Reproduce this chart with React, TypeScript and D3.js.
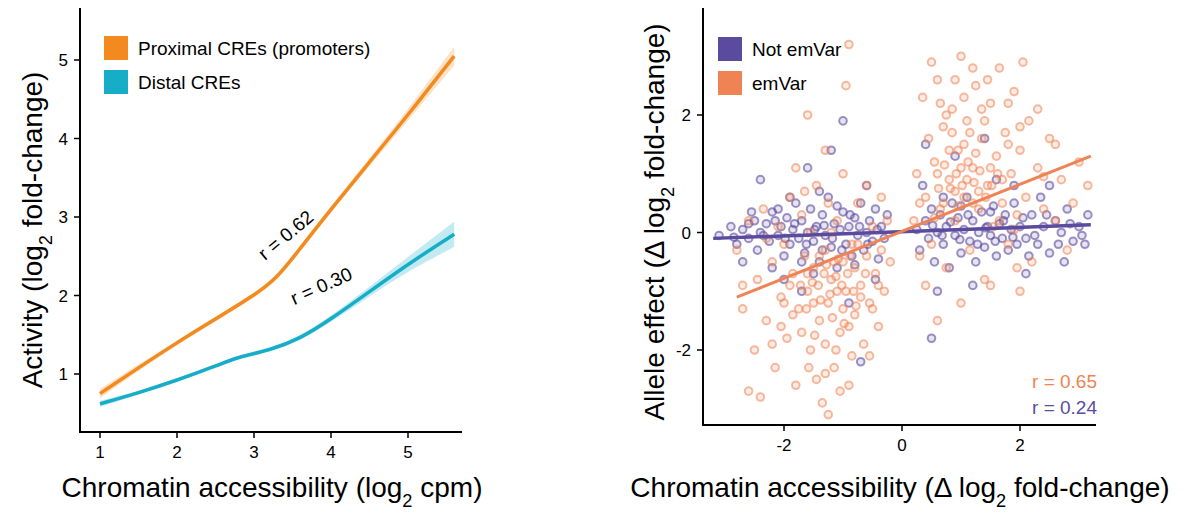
import * as d3 from 'd3';

// left panel: smoothed curves
const proxX = [1, 1.5, 2, 2.5, 3, 3.3, 3.6, 4, 4.5, 5, 5.6];
const proxY = [0.75, 1.08, 1.4, 1.7, 2.0, 2.22, 2.6, 3.1, 3.7, 4.3, 5.05];
const proxSe = [0.06, 0.04, 0.03, 0.03, 0.03, 0.04, 0.04, 0.04, 0.05, 0.07, 0.12];
const distX = [1, 1.5, 2, 2.5, 2.8, 3.2, 3.6, 4, 4.5, 5, 5.6];
const distY = [0.62, 0.76, 0.92, 1.1, 1.22, 1.3, 1.45, 1.7, 2.05, 2.4, 2.78];
const distSe = [0.04, 0.02, 0.02, 0.02, 0.02, 0.02, 0.03, 0.04, 0.06, 0.09, 0.16];
const leftXTicks = [1, 2, 3, 4, 5];
const leftYTicks = [1, 2, 3, 4, 5];

// right panel: scatter (x, y pairs)
const notEmVar = [
  -3.1,-0.05, -2.9,0.1, -2.8,-0.2, -2.7,0.05, -2.6,-0.1, -2.5,0.2, -2.45,-0.3, -2.4,0.0, -2.3,0.15, -2.25,-0.15,
  -2.2,0.35, -2.1,-0.05, -2.05,0.1, -2.0,-0.4, -1.95,0.25, -1.9,-0.2, -1.85,0.05, -1.8,0.5, -1.75,-0.1, -1.7,0.2,
  -1.65,-0.35, -1.6,0.0, -1.55,0.4, -1.5,-0.15, -1.45,0.1, -1.4,-0.5, -1.35,0.3, -1.3,-0.05, -1.25,0.6, -1.2,-0.25,
  -1.15,0.15, -1.1,-0.6, -1.05,0.05, -1.0,0.35, -0.95,-0.2, -0.9,0.1, -0.85,-0.4, -0.8,0.25, -0.75,-0.05, -0.7,0.5,
  -0.65,-0.3, -0.6,0.0, -0.55,0.2, -0.5,-0.15, -0.45,0.4, -0.4,-0.45, -0.35,0.1, -0.3,-0.1, -0.25,0.3, -1.6,1.1,
  -2.4,0.9, -1.2,1.4, -0.9,-1.2, -1.7,-1.0, -2.0,-0.8, -0.6,0.8, -1.4,0.7, -0.7,-2.2, -1.0,1.9, -2.7,-0.5,
  -2.2,-0.6, -1.9,0.6, -1.5,-0.7, -0.45,-0.8, -2.55,0.35,
  -2.35,-0.05, -2.15,0.2, -1.98,-0.1, -1.82,0.15, -1.62,-0.2, -1.48,0.05, -1.32,0.12, -1.18,-0.1, -1.02,-0.3, -0.88,0.3,
  -0.72,0.1, -0.58,-0.2, -0.42,0.05, -2.6,0.15, -2.85,-0.08, -1.1,0.45, -1.7,-0.5, -2.1,0.4, -0.8,-0.55, -1.35,-0.3,
  0.25,0.05, 0.3,-0.3, 0.4,0.2, 0.45,-0.1, 0.5,0.4, 0.55,-0.5, 0.6,0.0, 0.65,0.3, 0.7,-0.2, 0.75,0.1,
  0.8,-0.6, 0.85,0.5, 0.9,-0.05, 0.95,0.25, 1.0,-0.35, 1.05,0.05, 1.1,0.6, 1.15,-0.15, 1.2,0.2, 1.25,-0.5,
  1.3,0.0, 1.35,0.35, 1.4,-0.25, 1.45,0.1, 1.5,-0.05, 1.55,0.45, 1.6,-0.4, 1.65,0.15, 1.7,-0.1, 1.75,0.3,
  1.8,-0.3, 1.85,0.05, 1.9,0.5, 1.95,-0.2, 2.0,0.1, 2.1,-0.1, 2.2,0.3, 2.3,-0.2, 2.4,0.1, 2.5,-0.35,
  2.6,0.2, 2.7,0.0, 2.8,0.4, 2.9,-0.15, 3.0,0.1, 3.1,-0.2, 3.15,0.3, 2.35,0.6, 1.6,0.9, 0.9,1.3,
  1.2,-0.9, 0.6,-1.0, 2.1,-0.7, 0.5,-1.8, 0.4,1.5, 2.5,0.8, 1.9,0.8, 2.75,-0.5, 0.35,0.8, 1.4,1.6,
  0.52,0.12, 0.68,-0.05, 0.82,0.18, 0.98,-0.12, 1.12,0.3, 1.28,-0.2, 1.42,0.08, 1.58,-0.15, 1.72,0.2, 1.88,-0.08,
  2.05,0.25, 2.25,-0.05, 2.45,0.3, 2.65,-0.2, 2.85,0.15, 3.05,-0.05, 1.0,0.45, 1.5,0.35, 2.15,-0.4, 0.7,0.6,
];
const emVar = [
  -2.8,-0.3, -2.7,-1.3, -2.6,0.2, -2.5,-2.0, -2.45,-0.8, -2.4,-2.8, -2.35,0.4, -2.3,-1.5, -2.2,-0.5, -2.15,-2.3,
  -2.1,0.1, -2.05,-1.1, -2.0,-0.2, -1.95,-1.8, -1.9,0.6, -1.85,-0.7, -1.8,-2.6, -1.75,-1.3, -1.7,0.3, -1.65,-0.4,
  -1.6,-1.0, -1.55,-2.0, -1.5,-0.6, -1.45,0.8, -1.4,-1.5, -1.35,-2.9, -1.3,-0.3, -1.25,-1.2, -1.2,-0.8, -1.15,-2.3,
  -1.1,0.2, -1.05,-1.7, -1.0,-0.5, -0.95,-1.0, -0.9,-2.6, -0.85,-0.2, -0.8,-1.4, -0.75,0.5, -0.7,-0.9, -0.65,-1.9,
  -0.6,-0.4, -0.55,-1.2, -0.5,0.1, -0.45,-0.7, -0.4,-1.6, -0.35,-0.3, -0.3,-1.0, -0.25,0.2, -0.2,-0.5, -1.3,-1.9,
  -1.0,-1.3, -1.6,-0.7, -1.2,0.0, -0.8,-0.6, -1.1,-1.0, -1.4,-0.4, -0.9,-1.6, -1.7,-1.7, -1.5,-1.2, -0.7,-1.1,
  -1.0,1.0, -1.8,1.1, -0.6,0.8, -1.3,1.4, -0.9,3.2, -0.95,2.5, -1.6,2.0, -2.6,-2.7, -2.7,-0.9, -1.45,-2.5,
  -0.55,-2.1, -1.25,-3.1, -2.3,-0.1, -1.9,-0.9, -0.4,-0.9, -0.35,0.6, -1.15,-0.5, -0.75,-0.2, -1.55,0.0, -2.05,-1.6,
  -1.42,-0.9, -1.32,-0.7, -1.22,-1.05, -1.12,-0.75, -1.02,-0.9, -0.92,-0.7, -0.82,-1.0, -1.52,-0.85, -1.62,-1.3, -1.18,-1.45,
  -0.98,-1.55, -0.78,-1.25, -1.38,-1.15, -1.28,-0.55, -1.08,-0.45, -0.88,-0.4, -1.72,-0.9, -1.85,-1.4, -0.62,-0.7, -0.5,-1.3,
  -1.48,-1.75, -1.12,-2.0, -0.85,-2.1, -1.3,-2.4, -1.05,-2.7, -1.58,-2.3, -2.2,-1.9, -2.0,-1.2, -1.65,0.7, -1.25,0.5,
  0.2,0.2, 0.25,1.0, 0.3,-0.4, 0.35,2.3, 0.4,0.6, 0.45,1.6, 0.5,-0.2, 0.55,1.2, 0.6,2.6, 0.65,0.4,
  0.7,1.8, 0.75,-0.6, 0.8,0.9, 0.85,2.1, 0.9,0.2, 0.95,1.4, 1.0,3.0, 1.05,0.6, 1.1,1.9, 1.15,-0.3,
  1.2,1.1, 1.25,2.5, 1.3,0.4, 1.35,1.6, 1.4,-0.8, 1.45,0.8, 1.5,2.2, 1.55,0.1, 1.6,1.3, 1.65,2.8,
  1.7,0.5, 1.75,1.7, 1.8,-0.2, 1.85,1.0, 1.9,2.4, 1.95,0.3, 2.0,1.4, 2.05,2.9, 2.1,0.6, 2.15,1.9,
  2.2,-0.5, 2.3,1.1, 2.4,0.4, 2.5,1.6, 2.6,0.2, 2.7,0.9, 2.8,-0.3, 2.9,0.5, 3.0,1.2, 3.15,0.8,
  0.9,0.7, 1.1,0.9, 1.3,0.7, 0.7,0.5, 1.0,1.1, 1.2,0.5, 0.8,1.4, 1.5,1.1, 0.6,1.0, 1.4,1.9,
  1.0,-1.2, 0.6,-1.5, 1.5,-0.9, 2.0,-1.0, 0.4,-0.9, 1.8,1.5, 2.3,2.1, 2.6,1.5, 0.5,2.9, 1.7,0.9, 1.95,-0.6,
  0.82,0.75, 0.92,1.0, 1.02,0.8, 1.12,1.2, 1.22,0.85, 1.32,1.05, 1.42,0.6, 0.72,1.15, 0.62,0.75, 1.52,0.8,
  1.62,1.0, 1.05,1.5, 0.95,0.45, 1.25,1.35, 0.85,1.7, 1.15,1.7, 0.75,2.0, 1.35,2.1, 1.05,2.3, 0.65,2.2,
  1.45,2.6, 1.2,2.8, 0.9,2.6, 1.8,2.2, 2.0,1.8, 0.55,0.25, 1.65,0.2, 1.9,0.05, 0.3,0.5, 2.4,0.95,
];
const notEmVarFit = [[-3.2, -0.1], [3.2, 0.13]];
const emVarFit = [[-2.8, -1.1], [3.2, 1.3]];
const rightXTicks = [-2, 0, 2];
const rightYTicks = [-2, 0, 2];

const ORANGE = '#f28a1f';
const CYAN = '#15adc8';
const PURPLE = '#5b4b9f';
const SALMON = '#ef8354';
const FONT = 'Liberation Sans, Arial, sans-serif';

const pairs = (a: number[]) => d3.range(0, a.length, 2).map(i => [a[i], a[i + 1]] as [number, number]);

export default function App() {
  // left scales
  const lx = d3.scaleLinear().domain([1, 5]).range([100, 408]);
  const ly = d3.scaleLinear().domain([1, 5]).range([374, 60]);
  const curve = (xs: number[], ys: number[]) =>
    d3.line<number>().x((_, i) => lx(xs[i])).y((d) => ly(d)).curve(d3.curveBasis)(ys) as string;
  const band = (xs: number[], ys: number[], se: number[]) =>
    d3.area<number>().x((_, i) => lx(xs[i])).y0((d, i) => ly(d - se[i])).y1((d, i) => ly(d + se[i]))
      .curve(d3.curveBasis)(ys) as string;

  // right scales
  const rx = d3.scaleLinear().domain([-2, 2]).range([784, 1020]);
  const ry = d3.scaleLinear().domain([-2, 2]).range([350, 115]);

  const sub = (s: string) => <tspan baselineShift="sub" fontSize="0.65em">{s}</tspan>;

  return (
    <svg width={1200} height={531} style={{ position: 'absolute', left: 0, top: 0, fontFamily: FONT }}>
      <rect width={1200} height={531} fill="#fff" />
      {/* left panel */}
      <path d={band(proxX, proxY, proxSe)} fill={ORANGE} opacity={0.25} />
      <path d={band(distX, distY, distSe)} fill={CYAN} opacity={0.25} />
      <path d={curve(proxX, proxY)} fill="none" stroke={ORANGE} strokeWidth={3.5} />
      <path d={curve(distX, distY)} fill="none" stroke={CYAN} strokeWidth={3.5} />
      <line x1={80} x2={80} y1={8} y2={433} stroke="#000" strokeWidth={2} />
      <line x1={79} x2={462} y1={432} y2={432} stroke="#000" strokeWidth={2} />
      {leftXTicks.map(t => (
        <g key={'lx' + t}>
          <line x1={lx(t)} x2={lx(t)} y1={432} y2={438} stroke="#000" strokeWidth={1.5} />
          <text x={lx(t)} y={458} fontSize={17} textAnchor="middle">{t}</text>
        </g>
      ))}
      {leftYTicks.map(t => (
        <g key={'ly' + t}>
          <line x1={74} x2={80} y1={ly(t)} y2={ly(t)} stroke="#000" strokeWidth={1.5} />
          <text x={68} y={ly(t) + 6} fontSize={17} textAnchor="end">{t}</text>
        </g>
      ))}
      <text x={290} y={240} fontSize={19} transform="rotate(-40 290 240)" textAnchor="middle">r = 0.62</text>
      <text x={324} y={292} fontSize={19} transform="rotate(-24 324 292)" textAnchor="middle">r = 0.30</text>
      <rect x={104} y={36} width={24} height={24} fill={ORANGE} />
      <text x={138} y={55} fontSize={19}>Proximal CREs (promoters)</text>
      <rect x={104} y={70} width={24} height={24} fill={CYAN} />
      <text x={138} y={89} fontSize={19}>Distal CREs</text>
      <text x={272} y={497} fontSize={28} textAnchor="middle">Chromatin accessibility (log{sub('2')} cpm)</text>
      <text transform="translate(42 230) rotate(-90)" fontSize={28} textAnchor="middle">
        Activity (log{sub('2')} fold-change)
      </text>

      {/* right panel */}
      {pairs(notEmVar).map(([x, y], i) => (
        <circle key={'n' + i} cx={rx(x)} cy={ry(y)} r={3.8} fill={PURPLE} fillOpacity={0.15}
          stroke={PURPLE} strokeOpacity={0.6} strokeWidth={2} />
      ))}
      {pairs(emVar).map(([x, y], i) => (
        <circle key={'e' + i} cx={rx(x)} cy={ry(y)} r={3.8} fill={SALMON} fillOpacity={0.15}
          stroke={SALMON} strokeOpacity={0.55} strokeWidth={2} />
      ))}
      <line x1={rx(notEmVarFit[0][0])} y1={ry(notEmVarFit[0][1])} x2={rx(notEmVarFit[1][0])} y2={ry(notEmVarFit[1][1])}
        stroke={PURPLE} strokeWidth={3.5} />
      <line x1={rx(emVarFit[0][0])} y1={ry(emVarFit[0][1])} x2={rx(emVarFit[1][0])} y2={ry(emVarFit[1][1])}
        stroke={SALMON} strokeWidth={3} />
      <line x1={703} x2={703} y1={8} y2={426} stroke="#000" strokeWidth={2} />
      <line x1={702} x2={1096} y1={425} y2={425} stroke="#000" strokeWidth={2} />
      {rightXTicks.map(t => (
        <g key={'rx' + t}>
          <line x1={rx(t)} x2={rx(t)} y1={425} y2={431} stroke="#000" strokeWidth={1.5} />
          <text x={rx(t)} y={451} fontSize={17} textAnchor="middle">{t}</text>
        </g>
      ))}
      {rightYTicks.map(t => (
        <g key={'ry' + t}>
          <line x1={697} x2={703} y1={ry(t)} y2={ry(t)} stroke="#000" strokeWidth={1.5} />
          <text x={691} y={ry(t) + 6} fontSize={17} textAnchor="end">{t}</text>
        </g>
      ))}
      <rect x={718} y={37} width={24} height={24} fill={PURPLE} />
      <text x={752} y={56} fontSize={19}>Not emVar</text>
      <rect x={718} y={71} width={24} height={24} fill={SALMON} />
      <text x={752} y={90} fontSize={19}>emVar</text>
      <text x={1097} y={388} fontSize={19} textAnchor="end" fill={SALMON}>r = 0.65</text>
      <text x={1097} y={414} fontSize={19} textAnchor="end" fill={PURPLE}>r = 0.24</text>
      <text x={900} y={497} fontSize={28} textAnchor="middle">Chromatin accessibility (Δ log{sub('2')} fold-change)</text>
      <text transform="translate(664 222) rotate(-90)" fontSize={28} textAnchor="middle">
        Allele effect (Δ log{sub('2')} fold-change)
      </text>
    </svg>
  );
}
